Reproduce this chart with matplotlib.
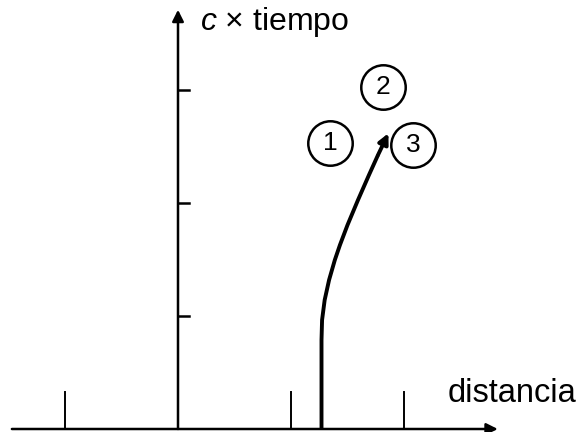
import matplotlib
matplotlib.use('Agg')
import matplotlib.pyplot as plt
import numpy as np

# world-line of the particle (distancia, c x tiempo), in tick units
curve_x = [1.270, 1.270, 1.275, 1.298, 1.337, 1.388, 1.433, 1.500, 1.593, 1.690, 1.770, 1.862]
curve_t = [0.000, 0.788, 0.965, 1.142, 1.319, 1.496, 1.628, 1.805, 2.027, 2.248, 2.425, 2.617]

x_ticks = [-1, 1, 2]
t_ticks = [1, 2, 3]

event_labels = ['1', '2', '3']
event_x = [1.345, 1.814, 2.080]
event_t = [2.531, 3.027, 2.513]

xlabel = 'distancia'
ylabel = r'$c$ × tiempo'

plt.rcParams['font.family'] = ['Liberation Sans', 'DejaVu Sans']
plt.rcParams['mathtext.fontset'] = 'custom'
plt.rcParams['mathtext.it'] = 'Liberation Sans:italic'

fig = plt.figure(figsize=(5.85, 4.32), dpi=100)
ax = fig.add_axes([0, 0, 1, 1])
ax.set_xlim(-178 / 113, 407 / 113)
ax.set_ylim(-3 / 113, 429 / 113)
ax.axis('off')

lw_axis = 1.8
arrow = dict(arrowstyle='-|>', lw=lw_axis, color='black',
             mutation_scale=17, shrinkA=0, shrinkB=0)

# axes with arrows
ax.annotate('', xy=(2.83, 0), xytext=(-1.47, 0), arrowprops=arrow)
ax.annotate('', xy=(0, 3.71), xytext=(0, 0), arrowprops=arrow)

# ticks
for xt in x_ticks:
    ax.plot([xt, xt], [0, 0.33], color='black', lw=1.4)
for tt in t_ticks:
    ax.plot([0, 0.1], [tt, tt], color='black', lw=1.8)

# world line
ax.plot(curve_x[:-1], curve_t[:-1], color='black', lw=2.8,
        solid_capstyle='butt', solid_joinstyle='round')
ax.annotate('', xy=(curve_x[-1], curve_t[-1]), xytext=(curve_x[-2], curve_t[-2]),
            arrowprops=dict(arrowstyle='-|>', lw=2.8, color='black',
                            mutation_scale=15, shrinkA=0, shrinkB=0))

# numbered events
ax.plot(event_x, event_t, linestyle='none', marker='o', markersize=32,
        mfc='white', mec='black', mew=1.8, zorder=3)
for lab, ex, et in zip(event_labels, event_x, event_t):
    ax.text(ex, et, lab, fontsize=19, ha='center', va='center', zorder=4)

ax.text(0.195, 3.60, ylabel, fontsize=23, ha='left', va='center')
ax.text(2.39, 0.239, xlabel, fontsize=23.5, ha='left', va='baseline')

fig.savefig('out.png', dpi=100)
